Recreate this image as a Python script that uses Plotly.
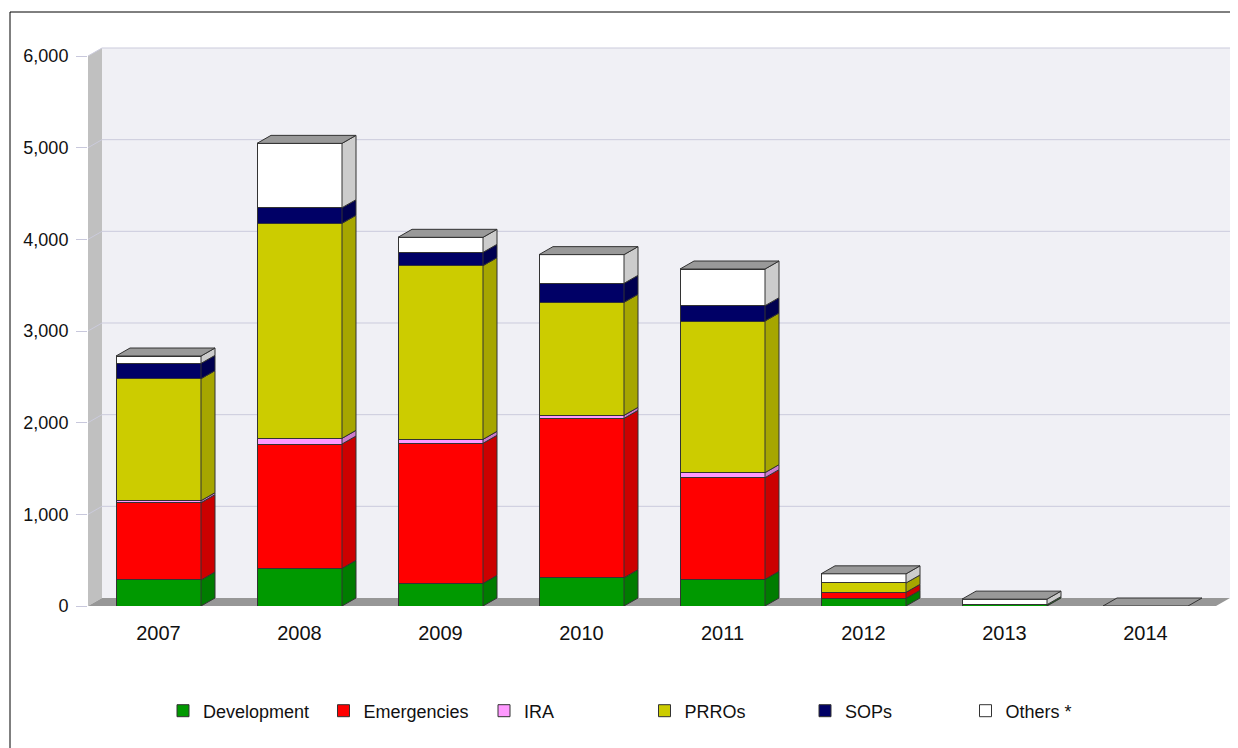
import plotly.graph_objects as go

years = ["2007", "2008", "2009", "2010", "2011", "2012", "2013", "2014"]
development = [284, 411, 247, 309, 291, 84, 15, 0]
emergencies = [843, 1356, 1528, 1738, 1109, 65, 0, 0]
ira = [22, 62, 43, 33, 55, 0, 0, 0]
prros = [1331, 2346, 1895, 1233, 1654, 102, 0, 0]
sops = [167, 170, 145, 207, 167, 0, 0, 0]
others = [80, 702, 164, 313, 400, 100, 60, 0]

series = [
    ("Development", development, "#009900", "#007c00"),
    ("Emergencies", emergencies, "#ff0000", "#cc0000"),
    ("IRA", ira, "#ff99ff", "#cc7acc"),
    ("PRROs", prros, "#cccc00", "#a6a600"),
    ("SOPs", sops, "#000066", "#000050"),
    ("Others *", others, "#ffffff", "#cccccc"),
]

# page has an 8px body margin; the figure is sized / placed to compensate
OFF = 8
W_PX, H_PX = 1238 - OFF, 748 - OFF
L, R, T, B = 88 - OFF, 8, 47 - OFF, 142
plot_w = W_PX - L - R
plot_h = H_PX - T - B
cat_px = 141.0
y_top_tick = 6000
px_per_unit_y = 550.0 / 6000
xmin = -0.5
xmax = xmin + plot_w / cat_px
ymax = plot_h / px_per_unit_y
dx = 14.0 / cat_px
dy = 8.0 / px_per_unit_y
bw = 85.0 / cat_px
n = len(years)
idx = list(range(n))
edge = "#333333"

fig = go.Figure()

# front faces
for name, vals, col, side in series:
    fig.add_trace(go.Bar(
        x=idx, y=vals, name=name, width=bw,
        marker=dict(color=col, line=dict(color=edge, width=1)),
        hoverinfo="skip",
    ))

# side faces
cum = [0.0] * n
for name, vals, col, side in series:
    xs, ys = [], []
    for i in range(n):
        b = cum[i]
        t = b + vals[i]
        if vals[i] > 0:
            xr = i + bw / 2
            xs += [xr, xr + dx, xr + dx, xr, xr, None]
            ys += [b, b + dy, t + dy, t, b, None]
        cum[i] = t
    fig.add_trace(go.Scatter(
        x=xs, y=ys, mode="lines", fill="toself", fillcolor=side,
        line=dict(color=edge, width=1), showlegend=False, hoverinfo="skip",
    ))

# top faces
xs, ys = [], []
for i in range(n):
    tt = cum[i]
    xl, xr = i - bw / 2, i + bw / 2
    xs += [xl, xr, xr + dx, xl + dx, xl, None]
    ys += [tt, tt, tt + dy, tt + dy, tt, None]
fig.add_trace(go.Scatter(
    x=xs, y=ys, mode="lines", fill="toself", fillcolor="#999999",
    line=dict(color=edge, width=1), showlegend=False, hoverinfo="skip",
))

shapes = []
x_end = xmin + n
# back wall
shapes.append(dict(type="rect", xref="x", yref="y", layer="below",
                   x0=xmin + dx, x1=x_end + dx, y0=dy, y1=y_top_tick + dy,
                   fillcolor="#f0f0f5", line=dict(width=0)))
# left wall
shapes.append(dict(type="path", xref="x", yref="y", layer="below",
                   path=f"M {xmin},0 L {xmin},{y_top_tick} L {xmin+dx},{y_top_tick+dy} L {xmin+dx},{dy} Z",
                   fillcolor="#c0c0c0", line=dict(width=0)))
# grid lines
for v in range(1000, 7000, 1000):
    shapes.append(dict(type="path", xref="x", yref="y", layer="below",
                       path=f"M {xmin},{v} L {xmin+dx},{v+dy} L {x_end+dx},{v+dy}",
                       line=dict(color="#cbcbdc", width=1)))
# floor
shapes.append(dict(type="path", xref="x", yref="y", layer="below",
                   path=f"M {xmin},0 L {x_end},0 L {x_end+dx},{dy} L {xmin+dx},{dy} Z",
                   fillcolor="#979797", line=dict(width=0)))
# frame lines (top and left)
fx = (10 - OFF - L) / plot_w
fy = (H_PX - B - (12 - OFF)) / plot_h
shapes.append(dict(type="line", xref="paper", yref="paper",
                   x0=fx, x1=(W_PX + 5 - L) / plot_w, y0=fy, y1=fy,
                   line=dict(color="black", width=1)))
shapes.append(dict(type="line", xref="paper", yref="paper",
                   x0=fx, x1=fx, y0=fy, y1=-(B + 5) / plot_h,
                   line=dict(color="black", width=1)))

fig.update_layout(
    width=W_PX, height=H_PX,
    margin=dict(l=L, r=R, t=T, b=B),
    barmode="stack",
    paper_bgcolor="white", plot_bgcolor="white",
    font=dict(family="Liberation Sans, Arial, sans-serif", color="#111111"),
    hovermode=False,
    shapes=shapes,
    legend=dict(orientation="h", x=(163 - 88) / plot_w, xanchor="left",
                y=(606 - 711) / plot_h, yanchor="middle",
                entrywidth=115.5, entrywidthmode="pixels",
                font=dict(size=18), traceorder="normal",
                bgcolor="rgba(0,0,0,0)"),
    xaxis=dict(range=[xmin, xmax], tickvals=idx, ticktext=years,
               showgrid=False, zeroline=False, showline=False, ticks="",
               tickfont=dict(size=20), ticklabelstandoff=13, fixedrange=True),
    yaxis=dict(range=[0, ymax], tickvals=list(range(0, 7000, 1000)),
               tickformat=",d", showgrid=False, zeroline=False, showline=False,
               ticks="outside", ticklen=11, tickcolor="#c8c8dc",
               tickfont=dict(size=18), ticklabelstandoff=4, fixedrange=True),
)

fig.write_html("out.html", config={"displayModeBar": False})
